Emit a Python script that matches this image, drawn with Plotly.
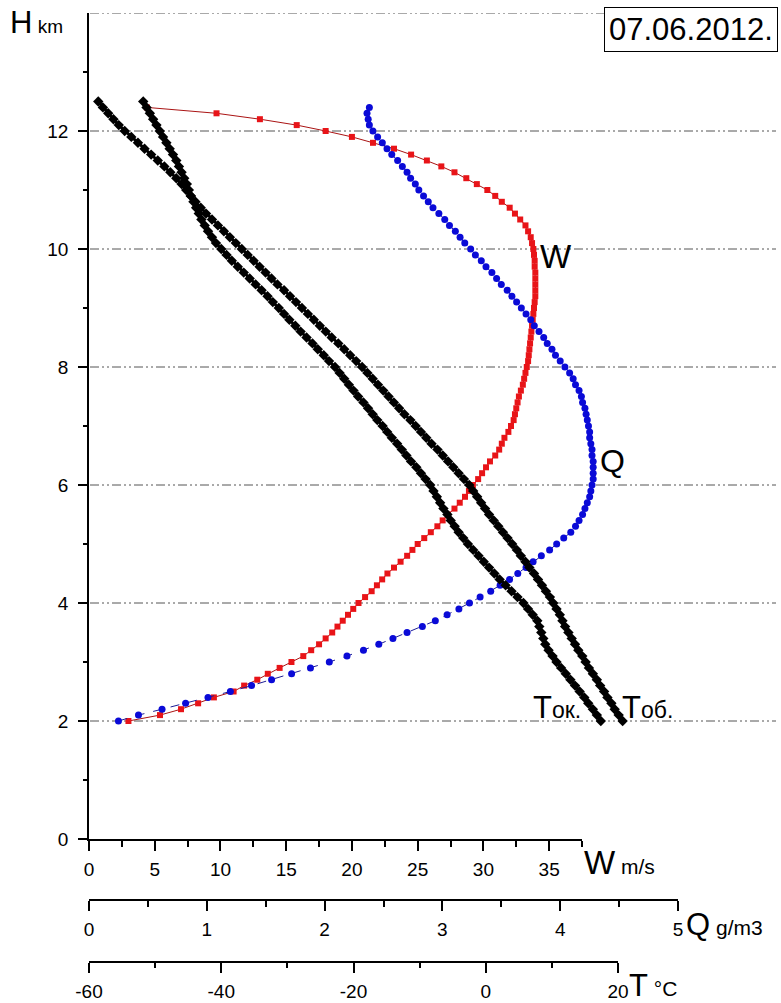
import plotly.graph_objects as go

# ---------------- data ----------------
H = [2.0, 2.1, 2.2, 2.3, 2.4, 2.5, 2.6, 2.7, 2.8, 2.9,
     3.0, 3.1, 3.2, 3.3, 3.4, 3.5, 3.6, 3.7, 3.8, 3.9,
     4.0, 4.1, 4.2, 4.3, 4.4, 4.5, 4.6, 4.7, 4.8, 4.9,
     5.0, 5.1, 5.2, 5.3, 5.4, 5.5, 5.6, 5.7, 5.8, 5.9,
     6.0, 6.1, 6.2, 6.3, 6.4, 6.5, 6.6, 6.7, 6.8, 6.9,
     7.0, 7.1, 7.2, 7.3, 7.4, 7.5, 7.6, 7.7, 7.8, 7.9,
     8.0, 8.1, 8.2, 8.3, 8.4, 8.5, 8.6, 8.7, 8.8, 8.9,
     9.0, 9.1, 9.2, 9.3, 9.4, 9.5, 9.6, 9.7, 9.8, 9.9,
     10.0, 10.1, 10.2, 10.3, 10.4, 10.5, 10.6, 10.7, 10.8, 10.9,
     11.0, 11.1, 11.2, 11.3, 11.4, 11.5, 11.6, 11.7, 11.8, 11.9,
     12.0, 12.1, 12.2, 12.3, 12.4, 12.5]

# wind speed W, m/s (H = 2.0 ... 12.4)
W = [3.0, 5.4, 7.0, 8.3, 9.5, 11.0, 11.8, 12.8, 13.6, 14.5,
     15.4, 16.3, 16.9, 17.5, 18.0, 18.5, 18.9, 19.3, 19.7, 20.1,
     20.5, 21.0, 21.5, 21.9, 22.3, 22.7, 23.2, 23.7, 24.2, 24.6,
     25.0, 25.5, 26.0, 26.5, 26.9, 27.3, 27.8, 28.2, 28.6, 28.9,
     29.2, 29.6, 29.9, 30.2, 30.5, 30.9, 31.2, 31.4, 31.6, 31.9,
     32.1, 32.3, 32.4, 32.5, 32.6, 32.7, 32.85, 33.0, 33.1, 33.2,
     33.3, 33.4, 33.45, 33.5, 33.55, 33.6, 33.65, 33.7, 33.75, 33.8,
     33.85, 33.9, 33.95, 33.95, 33.95, 33.95, 33.95, 33.9, 33.9, 33.85,
     33.8, 33.7, 33.6, 33.4, 33.2, 32.8, 32.4, 32.0, 31.4, 30.9,
     30.3, 29.5, 28.7, 27.8, 26.8, 25.7, 24.5, 23.2, 21.6, 20.0,
     18.0, 15.8, 13.0, 9.7, 4.4]

# water content Q, g/m3 (H = 2.0 ... 12.4)
Q = [0.25, 0.42, 0.62, 0.82, 1.01, 1.20, 1.38, 1.55, 1.72, 1.88,
     2.04, 2.19, 2.33, 2.46, 2.58, 2.70, 2.83, 2.94, 3.04, 3.14,
     3.23, 3.32, 3.41, 3.49, 3.57, 3.64, 3.71, 3.77, 3.84, 3.91,
     3.97, 4.03, 4.09, 4.13, 4.16, 4.19, 4.21, 4.23, 4.25, 4.26,
     4.27, 4.28, 4.28, 4.28, 4.28, 4.27, 4.27, 4.26, 4.25, 4.25,
     4.24, 4.23, 4.22, 4.21, 4.19, 4.18, 4.16, 4.13, 4.11, 4.08,
     4.04, 4.00, 3.96, 3.93, 3.89, 3.86, 3.82, 3.78, 3.75, 3.71,
     3.67, 3.63, 3.59, 3.55, 3.50, 3.46, 3.42, 3.37, 3.33, 3.28,
     3.24, 3.19, 3.15, 3.11, 3.06, 3.02, 2.97, 2.92, 2.88, 2.84,
     2.80, 2.77, 2.73, 2.70, 2.66, 2.62, 2.57, 2.53, 2.49, 2.45,
     2.41, 2.38, 2.37, 2.36, 2.38]

# cloud temperature T_ob, degC (H = 2.0 ... 12.5)
T_ob = [20.7, 20.1, 19.5, 19.0, 18.4, 17.9, 17.3, 16.8, 16.2, 15.6,
        15.1, 14.6, 14.0, 13.5, 13.0, 12.5, 12.0, 11.6, 11.2, 10.7,
        10.2, 9.7, 9.1, 8.5, 7.9, 7.3, 6.6, 6.0, 5.3, 4.7,
        4.0, 3.3, 2.6, 1.9, 1.2, 0.5, -0.1, -0.7, -1.3, -1.9,
        -2.5, -3.3, -4.1, -4.9, -5.7, -6.5, -7.3, -8.2, -9.0, -9.8,
        -10.6, -11.4, -12.3, -13.1, -13.9, -14.7, -15.5, -16.3, -17.1, -17.9,
        -18.7, -19.6, -20.5, -21.4, -22.3, -23.3, -24.2, -25.1, -26.0, -26.9,
        -27.8, -28.7, -29.6, -30.5, -31.5, -32.4, -33.3, -34.2, -35.1, -36.0,
        -36.9, -37.8, -38.7, -39.6, -40.5, -41.4, -42.3, -43.1, -43.9, -44.6,
        -45.3, -46.0, -46.8, -47.7, -48.6, -49.6, -50.6, -51.6, -52.6, -53.6,
        -54.6, -55.5, -56.3, -57.1, -57.9, -58.6]

# ambient temperature T_ok, degC (H = 2.0 ... 12.5)
T_ok = [17.4, 16.8, 16.2, 15.5, 14.9, 14.2, 13.5, 12.8, 12.1, 11.4,
        10.7, 10.1, 9.5, 9.0, 8.7, 8.4, 8.1, 7.8, 7.1, 6.4,
        5.7, 4.8, 3.9, 3.0, 2.1, 1.3, 0.5, -0.3, -1.1, -1.9,
        -2.7, -3.4, -4.1, -4.7, -5.3, -5.8, -6.4, -6.9, -7.4, -7.9,
        -8.4, -9.1, -9.8, -10.5, -11.3, -12.0, -12.7, -13.4, -14.2, -14.9,
        -15.6, -16.4, -17.1, -17.8, -18.5, -19.3, -20.0, -20.7, -21.4, -22.1,
        -22.8, -23.7, -24.5, -25.4, -26.2, -27.1, -28.0, -28.8, -29.7, -30.5,
        -31.3, -32.2, -33.0, -33.9, -34.8, -35.7, -36.6, -37.5, -38.4, -39.2,
        -40.0, -40.8, -41.4, -42.0, -42.5, -43.0, -43.4, -43.8, -44.2, -44.6,
        -44.9, -45.2, -45.6, -46.0, -46.4, -46.8, -47.3, -47.8, -48.3, -48.8,
        -49.3, -49.8, -50.3, -50.8, -51.3, -51.8]

H_ticks = [0, 2, 4, 6, 8, 10, 12]
H_minor = [1, 3, 5, 7, 9, 11, 13]
H_grid = [2, 4, 6, 8, 10, 12, 14]
W_ticks = [0, 5, 10, 15, 20, 25, 30, 35]
Q_ticks = [0, 1, 2, 3, 4, 5]
T_ticks = [-60, -40, -20, 0, 20]
T_ticktext = ["-60", "-40", "-20", "0", "20"]

# ---------------- layout helpers (pixel -> paper) ----------------
FW, FH = 781, 1003
def fx(px):
    return px / FW
def fy(py):
    return 1 - py / FH

FONT = "Liberation Sans, Arial, sans-serif"
X0 = 89          # left edge of all axes (px)
W_END, Q_END, T_END, GRID_END = 582, 678, 618, 776
T_RANGE = (-60, 20)
t_px = (T_END - X0) / (T_RANGE[1] - T_RANGE[0])      # px per degree
T_FULL = T_RANGE[0] + (GRID_END - X0) / t_px          # same scale, wider

fig = go.Figure()

fig.add_trace(go.Scatter(
    x=W, y=H[:len(W)], xaxis="x", yaxis="y", mode="lines+markers",
    line=dict(color="rgb(170,20,20)", width=1),
    marker=dict(symbol="square", size=6, color="rgb(232,20,24)"),
    showlegend=False, hoverinfo="skip", cliponaxis=False))

fig.add_trace(go.Scatter(
    x=Q, y=H[:len(Q)], xaxis="x2", yaxis="y", mode="lines+markers",
    line=dict(color="rgb(30,30,150)", width=1, dash="dash"),
    marker=dict(symbol="circle", size=7, color="rgb(10,10,215)"),
    showlegend=False, hoverinfo="skip", cliponaxis=False))

# temperatures on a hidden axis with exactly the scale of the T axis
for T in (T_ok, T_ob):
    fig.add_trace(go.Scatter(
        x=T, y=H[:len(T)], xaxis="x4", yaxis="y", mode="lines+markers",
        line=dict(color="black", width=3),
        marker=dict(symbol="diamond", size=8, color="black"),
        showlegend=False, hoverinfo="skip", cliponaxis=False))

# empty trace so that the visible T axis is created
fig.add_trace(go.Scatter(x=[], y=[], xaxis="x3", yaxis="y",
                         showlegend=False, hoverinfo="skip"))

tickfont = dict(family=FONT, size=19, color="black")

def axis(**kw):
    d = dict(showline=True, linecolor="black", linewidth=1.5,
             ticks="outside", tickcolor="black", tickwidth=1.5,
             ticklen=10, showgrid=False, zeroline=False, automargin=False,
             tickfont=tickfont, ticklabelstandoff=2)
    d.update(kw)
    return d

def minor(step=None, vals=None, ln=5):
    m = dict(ticklen=ln, ticks="outside", tickcolor="black", tickwidth=1.5,
             showgrid=False)
    if vals is not None:
        m["tickvals"] = vals
    else:
        m["dtick"] = step
    return m

fig.update_layout(
    width=FW, height=FH, autosize=False,
    margin=dict(l=0, r=0, t=0, b=0, pad=0, autoexpand=False),
    paper_bgcolor="white", plot_bgcolor="rgba(0,0,0,0)",
    showlegend=False,
    yaxis=axis(domain=[fy(839), fy(13)], range=[0, 14], anchor="x",
               tickvals=H_ticks, ticklen=9, ticklabelstandoff=6,
               minor=minor(vals=H_minor, ln=4)),
    xaxis=axis(domain=[fx(X0), fx(W_END)], range=[0, 37.5], anchor="y",
               tickvals=W_ticks, minor=minor(step=2.5, ln=6)),
    xaxis2=axis(domain=[fx(X0), fx(Q_END)], range=[0, 5], anchor="free",
                position=fy(900), tickvals=Q_ticks, minor=minor(step=0.5, ln=6)),
    xaxis3=axis(domain=[fx(X0), fx(T_END)], range=list(T_RANGE),
                anchor="free", position=fy(962), tickvals=T_ticks,
                ticktext=T_ticktext, minor=minor(step=10, ln=5)),
    xaxis4=dict(domain=[fx(X0), fx(GRID_END)], range=[T_RANGE[0], T_FULL],
                anchor="y", visible=False, automargin=False),
)

# dash-dot-dot horizontal grid lines
for h in H_grid:
    fig.add_shape(type="line", xref="paper", yref="y",
                  x0=fx(X0 + 1), x1=fx(GRID_END), y0=h, y1=h,
                  line=dict(color="#555555", width=1,
                            dash="9px,3px,2px,3px,2px,3px"),
                  layer="below")

def ann(text, px, py, size, xanchor="left", yanchor="middle", **kw):
    fig.add_annotation(text=text, x=fx(px), y=fy(py), xref="paper",
                       yref="paper", xanchor=xanchor, yanchor=yanchor,
                       showarrow=False,
                       font=dict(family=FONT, size=size, color="black"), **kw)

ann("H<span style='font-size:19px'> km</span>", 8, 22, 31)
ann("07.06.2012.", 778, 7, 31, xanchor="right", yanchor="top",
    bordercolor="black", borderwidth=1, borderpad=4, bgcolor="white")
ann("W", 538, 257, 33)
ann("Q", 598, 461, 32)
ann("T<span style='font-size:23px'>ок.</span>", 531, 707, 31)
ann("T<span style='font-size:23px'>об.</span>", 620, 707, 31)
ann("W<span style='font-size:21px'> m/s</span>", 582, 862, 33)
ann("Q<span style='font-size:21px'> g/m3</span>", 684, 924, 31)
ann("T<span style='font-size:21px'> °C</span>", 627, 985, 31)

fig.write_html("out.html", config={"displayModeBar": False},
               post_script="document.body.style.margin='0';")
